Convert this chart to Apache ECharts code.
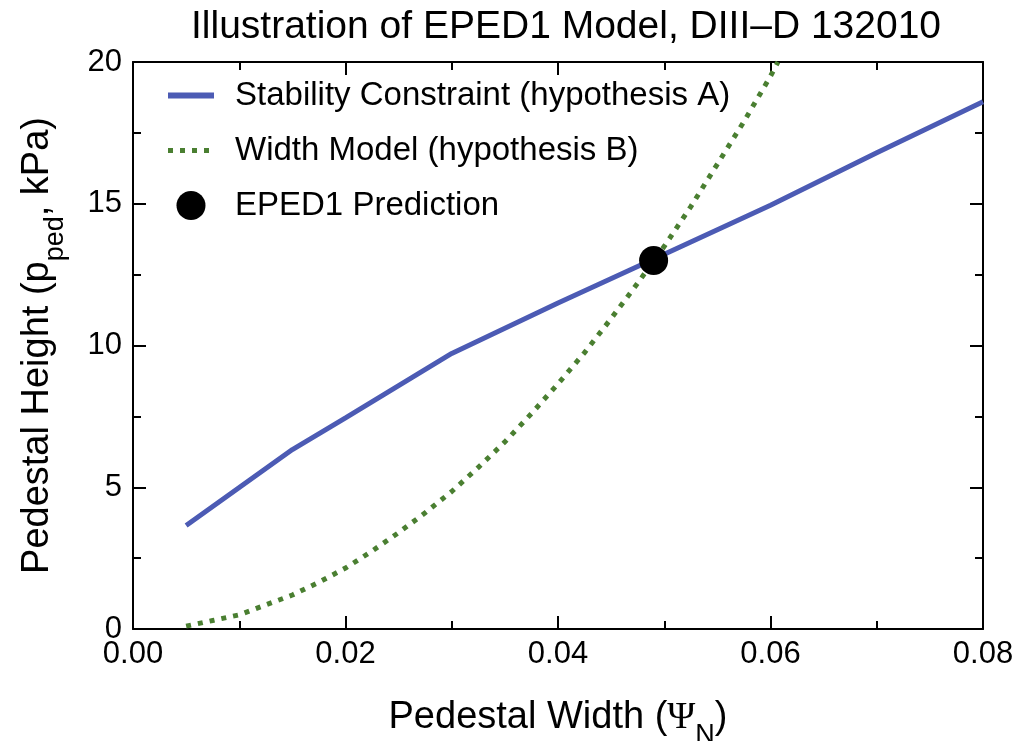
<!DOCTYPE html>
<html>
<head>
<meta charset="utf-8">
<title>EPED1 Model</title>
<script src="https://cdn.jsdelivr.net/npm/echarts@6/dist/echarts.min.js"></script>
<style>
  html, body { margin: 0; padding: 0; background: #fff; }
  #main { width: 1025px; height: 741px; }
</style>
</head>
<body>
<div id="main"></div>
<script>
// stability constraint (hypothesis A)
var stabX = [0.005, 0.015, 0.02, 0.03, 0.04, 0.05, 0.06, 0.07, 0.08];
var stabY = [3.65, 6.33, 7.45, 9.72, 11.5, 13.22, 14.95, 16.8, 18.6];

// width model (hypothesis B)
var widthX = [0.005, 0.0075, 0.01, 0.0125, 0.015, 0.0175, 0.02, 0.0225, 0.025, 0.0275, 0.03,
  0.0325, 0.035, 0.0375, 0.04, 0.0425, 0.045, 0.0475, 0.05, 0.0525, 0.055, 0.0575, 0.06, 0.0607];
var widthY = [0.1, 0.3, 0.5, 0.85, 1.2, 1.65, 2.15, 2.75, 3.4, 4.1, 4.85,
  5.7, 6.6, 7.6, 8.65, 9.75, 10.95, 12.2, 13.5, 14.9, 16.4, 17.9, 19.5, 20];

// EPED1 prediction
var predX = [0.049];
var predY = [13.0];

var legendNames = ['Stability Constraint (hypothesis A)', 'Width Model (hypothesis B)', 'EPED1 Prediction'];

var blue = '#4c5bb4';
var green = '#4a7f31';

function pairs(xs, ys) {
  return xs.map(function (x, i) { return [x, ys[i]]; });
}

var font = 'Liberation Sans';
var nameRich = {
  n: { fontSize: 38, fontFamily: font, color: '#000', lineHeight: 44, verticalAlign: 'middle' },
  g: { fontSize: 38, fontFamily: 'Liberation Serif', color: '#000', lineHeight: 44, verticalAlign: 'middle' },
  s: { fontSize: 27, fontFamily: font, color: '#000', lineHeight: 62, verticalAlign: 'bottom' }
};

var tickStyle = { show: true, inside: true, length: 13, lineStyle: { color: '#000', width: 2 } };
var minorStyle = { show: true, splitNumber: 2, length: 8, lineStyle: { color: '#000', width: 2 } };
var lineStyle = { show: true, onZero: false, lineStyle: { color: '#000', width: 2 } };

var myChart = echarts.init(document.getElementById('main'));
var option = {
  animation: false,
  backgroundColor: '#fff',
  title: {
    text: 'Illustration of EPED1 Model, DIII\u2013D 132010',
    left: 186,
    top: 3,
    textStyle: { fontFamily: font, fontSize: 39, fontWeight: 'normal', color: '#000' }
  },
  legend: {
    orient: 'vertical',
    left: 160,
    top: 74,
    itemWidth: 46,
    itemHeight: 29,
    itemGap: 22,
    textStyle: { fontFamily: font, fontSize: 33, color: '#000', padding: [0, 0, 0, 16] },
    data: [
      { name: legendNames[0], itemStyle: { opacity: 0 }, lineStyle: { color: blue, width: 6 } },
      { name: legendNames[1], itemStyle: { opacity: 0 }, lineStyle: { color: green, width: 5, type: [5, 7] } },
      { name: legendNames[2] }
    ]
  },
  grid: { left: 133, right: 42, top: 62, bottom: 112, outerBoundsMode: 'none', containLabel: false },
  xAxis: [{
    type: 'value',
    min: 0,
    max: 0.08,
    interval: 0.02,
    name: '{n|Pedestal Width (}{g|\u03a8}{s|N}{n|)}',
    nameLocation: 'middle',
    nameGap: 58,
    nameTextStyle: { rich: nameRich },
    axisLine: lineStyle,
    axisTick: tickStyle,
    minorTick: minorStyle,
    splitLine: { show: false },
    axisLabel: {
      margin: 10,
      fontFamily: font,
      fontSize: 31,
      color: '#000',
      formatter: function (v) { return v.toFixed(2); }
    }
  }, {
    type: 'value',
    position: 'top',
    min: 0,
    max: 0.08,
    interval: 0.02,
    axisLine: lineStyle,
    axisTick: tickStyle,
    minorTick: minorStyle,
    splitLine: { show: false },
    axisLabel: { show: false }
  }],
  yAxis: [{
    type: 'value',
    min: 0,
    max: 20,
    interval: 5,
    name: '{n|Pedestal Height (p}{s|ped}{n|, kPa)}',
    nameLocation: 'middle',
    nameGap: 64,
    nameTextStyle: { rich: nameRich },
    axisLine: lineStyle,
    axisTick: tickStyle,
    minorTick: minorStyle,
    splitLine: { show: false },
    axisLabel: { margin: 11, fontFamily: font, fontSize: 31, color: '#000' }
  }, {
    type: 'value',
    position: 'right',
    min: 0,
    max: 20,
    interval: 5,
    axisLine: lineStyle,
    axisTick: tickStyle,
    minorTick: minorStyle,
    splitLine: { show: false },
    axisLabel: { show: false }
  }],
  series: [{
    name: legendNames[0],
    type: 'line',
    symbol: 'none',
    color: blue,
    lineStyle: { color: blue, width: 5 },
    data: pairs(stabX, stabY)
  }, {
    name: legendNames[1],
    type: 'line',
    symbol: 'none',
    color: green,
    lineStyle: { color: green, width: 5, type: [5, 7], cap: 'butt' },
    data: pairs(widthX, widthY)
  }, {
    name: legendNames[2],
    type: 'scatter',
    symbol: 'circle',
    symbolSize: 29,
    color: '#000',
    itemStyle: { color: '#000', opacity: 1 },
    z: 5,
    data: pairs(predX, predY)
  }]
};
myChart.setOption(option);
</script>
</body>
</html>
